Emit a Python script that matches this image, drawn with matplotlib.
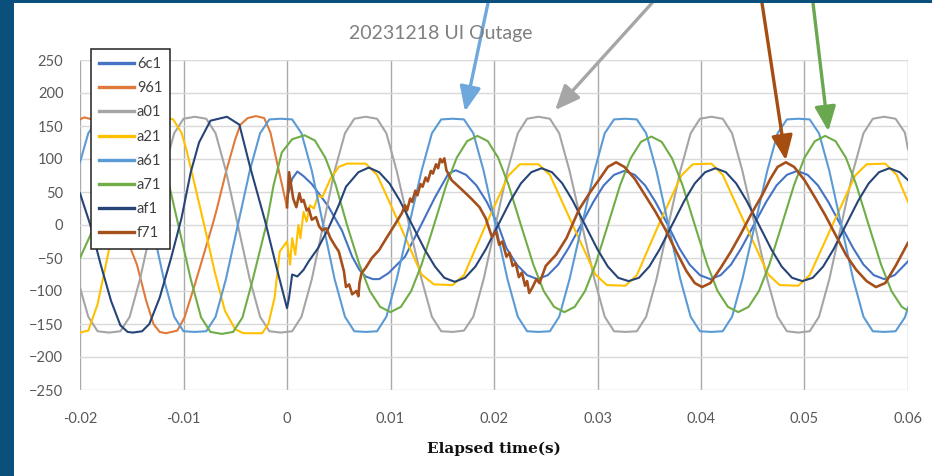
import matplotlib
matplotlib.use("Agg")
import matplotlib.pyplot as plt
import numpy as np
from matplotlib.patches import Rectangle

plt.rcParams['font.family'] = ['Lato', 'DejaVu Sans']

# ---------------- data (time in ms, values as read) ----------------
t_ac = [-20.0, -19.2, -18.3, -17.2, -16.1, -15.2, -14.2, -11.9, -10.9, -10.0, -8.9, -7.8, -6.9, -5.9,
        -3.6, -2.6, -1.7, -0.6, 0.5, 1.4, 2.4, 4.6, 5.6, 6.5, 7.6, 8.7, 9.6, 10.6,
        13.0, 14.0, 14.9, 16.0, 17.1, 18.0, 19.0, 21.3, 22.3, 23.2, 24.3, 25.4, 26.3, 27.3,
        29.7, 30.7, 31.6, 32.7, 33.8, 34.7, 35.7, 38.0, 39.0, 39.9, 41.0, 42.1, 43.0, 44.0,
        46.4, 47.4, 48.3, 49.4, 50.5, 51.4, 52.4, 54.7, 55.7, 56.6, 57.7, 58.8, 59.7, 60.0]
v_a01 = [-95, -139, -161, -163, -161, -139, -82, 82, 139, 161, 164, 161, 139, 82,
         -82, -139, -161, -163, -161, -139, -82, 82, 139, 161, 164, 161, 139, 82,
         -82, -139, -161, -162, -160, -139, -82, 82, 139, 161, 164, 161, 139, 82,
         -82, -139, -161, -162, -161, -139, -82, 82, 139, 161, 164, 161, 139, 82,
         -82, -139, -161, -163, -161, -139, -82, 82, 139, 161, 164, 161, 140, 115]
v_a61 = [95, 139, 160, 161, 160, 139, 82, -82, -139, -161, -162, -161, -139, -82,
         82, 139, 160, 161, 160, 139, 82, -82, -139, -161, -162, -161, -139, -82,
         82, 139, 160, 161, 160, 139, 82, -82, -139, -161, -162, -161, -139, -82,
         82, 139, 160, 161, 160, 139, 82, -82, -139, -161, -162, -161, -139, -82,
         82, 139, 160, 161, 160, 139, 82, -82, -139, -161, -162, -161, -140, -125]

t_a71 = [-20.0, -18.7, -17.7, -16.7, -15.8, -14.7, -13.6, -12.7, -11.7, -9.3, -8.3, -7.4, -6.3, -5.2,
         -4.3, -3.3, -2.0, -1.3, -0.5, 0.5, 1.7, 2.7, 3.7, 4.7, 5.8, 7.0, 8.0, 9.0, 10.0, 11.0,
         12.0, 13.0, 14.2, 15.4, 16.4, 17.4, 18.4, 19.4, 20.4, 21.4, 22.6, 23.8, 24.8, 25.8,
         26.8, 27.8, 28.8, 29.8, 31.0, 32.2, 33.2, 34.2, 35.2, 36.2, 37.2, 38.2, 39.4, 40.6,
         41.6, 42.6, 43.6, 44.6, 45.6, 46.6, 47.8, 49.0, 50.0, 51.0, 52.0, 53.0, 54.0, 55.0,
         56.2, 57.4, 58.4, 59.4, 60.0]
v_a71 = [-50, -5, 82, 140, 162, 165, 162, 140, 82, -82, -140, -162, -165, -162,
         -140, -82, 0, 60, 110, 130, 136, 128, 102, 61, 0, -60, -100, -124, -132, -124,
         -100, -60, 0, 61, 102, 127, 135, 127, 102, 61, 0, -60, -100, -124,
         -132, -124, -100, -60, 0, 61, 101, 126, 134, 126, 101, 61, 0, -60,
         -100, -124, -132, -124, -100, -60, 0, 61, 102, 127, 135, 127, 102, 61,
         0, -60, -100, -124, -130]

t_a21 = [-20.0, -19.2, -18.3, -17.5, -16.7, -15.8, -14.9, -13.9, -12.4, -11.0,
         -10.2, -9.7, -8.9, -8.0, -7.0, -6.0, -5.0, -4.2, -2.4, -1.8,
         -1.2, -0.7, 0.0, 0.3, 0.5, 0.8, 1.1, 1.3, 1.6, 1.9,
         2.2, 2.6, 3.0, 3.4, 4.2, 5.0, 5.8, 7.6, 8.7, 10.9,
         13.0, 14.2, 16.0, 17.1, 19.2, 21.4, 22.5, 24.3, 25.4, 27.6,
         29.8, 30.9, 32.7, 33.8, 35.9, 38.1, 39.2, 41.0, 42.1, 44.3,
         46.5, 47.6, 49.4, 50.5, 52.7, 54.9, 56.0, 57.8, 58.9, 60.0]
v_a21 = [-163, -160, -120, -60, 0, 70, 130, 160, 165, 160,
         140, 113, 60, 0, -70, -130, -158, -164, -164, -150,
         -110, -40, -25, -60, -20, -45, 0, -20, 20, 5,
         30, 25, 45, 42, 70, 88, 93, 93, 76, 0,
         -75, -90, -91, -76, 0, 75, 92, 92, 76, 0,
         -75, -91, -92, -76, 0, 75, 92, 93, 76, 0,
         -75, -91, -92, -76, 0, 75, 92, 93, 76, 35]

t_af1 = [-20.0, -19.0, -18.0, -17.0, -16.1, -15.4, -14.9, -14.0, -13.3, -12.3,
         -11.2, -10.2, -9.3, -8.5, -7.4, -5.8, -4.6, -3.6, -2.1, -1.0,
         0.0, 0.2, 0.5, 1.0, 1.6, 2.1, 3.0, 4.0, 5.0, 5.7,
         6.9, 7.9, 8.9, 9.9, 10.9, 12.1, 13.3, 14.3, 15.2, 16.2,
         17.2, 18.2, 19.2, 20.4, 21.6, 22.6, 23.6, 24.6, 25.6, 26.6,
         27.6, 28.8, 30.0, 31.0, 32.0, 33.0, 34.0, 35.0, 36.0, 37.2,
         38.4, 39.4, 40.4, 41.4, 42.4, 43.4, 44.4, 45.6, 46.8, 47.8,
         48.8, 49.8, 50.8, 51.8, 52.8, 54.0, 55.2, 56.2, 57.2, 58.2,
         59.2, 60.0]
v_af1 = [48, 0, -60, -115, -152, -162, -163, -161, -150, -110,
         -50, 10, 80, 125, 158, 164, 152, 90, 5, -65,
         -126, -110, -75, -78, -68, -55, -35, -5, 30, 58,
         80, 87, 80, 63, 37, 0, -37, -63, -80, -86,
         -80, -63, -37, 0, 37, 63, 80, 86, 80, 63,
         37, 0, -37, -63, -80, -85, -80, -63, -37, 0,
         37, 63, 80, 86, 80, 63, 37, 0, -37, -63,
         -80, -85, -80, -63, -37, 0, 37, 63, 80, 86,
         80, 68]

t_6c1 = [0.0, 0.5, 1.0, 1.6, 2.4, 4.0, 5.3, 6.3, 7.0, 7.6,
         8.3, 8.9, 9.8, 11.4, 12.7, 14.3, 15.6, 16.3, 17.3, 18.3,
         19.3, 20.4, 21.2, 22.2, 23.2, 24.2, 25.2, 26.2, 27.2, 28.4,
         29.6, 30.6, 31.6, 32.6, 33.6, 34.6, 35.6, 36.8, 37.9, 38.9,
         39.9, 40.9, 41.9, 42.9, 43.9, 45.1, 46.3, 47.3, 48.3, 49.3,
         50.3, 51.3, 52.3, 53.5, 54.7, 55.7, 56.7, 57.7, 58.7, 59.7, 60.0]
v_6c1 = [40, 70, 81, 74, 62, 28, -8, -48, -68, -78,
         -82, -82, -73, -48, -8, 42, 78, 83, 76, 60,
         35, 0, -35, -60, -76, -82, -76, -60, -35, 0,
         35, 60, 76, 82, 76, 60, 35, 0, -35, -60,
         -76, -82, -76, -60, -35, 0, 35, 60, 76, 82,
         76, 60, 35, 0, -35, -60, -76, -82, -76, -60, -55]

t_961 = [-20.0, -19.6, -18.8, -18.0, -17.1, -16.0, -15.5, -14.5, -13.6, -12.9,
         -12.3, -11.7, -10.6, -9.9, -8.9, -7.2, -6.8, -5.9, -5.0, -4.5,
         -3.8, -3.0, -2.2, -1.6, -0.9, -0.4, 0.0]
v_961 = [160, 163, 160, 140, 95, 20, -20, -60, -115, -150,
         -162, -164, -160, -140, -90, 0, 23, 80, 130, 152,
         162, 165, 162, 140, 90, 55, 27]

t_f71 = [0.0, 0.2, 0.4, 0.6, 0.9, 1.2, 1.4, 1.6, 1.9, 2.1,
         2.4, 2.8, 3.1, 3.4, 3.8, 4.2, 4.7, 5.0, 5.3, 5.5,
         5.7, 6.0, 6.3, 6.7, 6.9, 7.0, 7.2, 7.6, 8.2, 8.9,
         9.6, 10.4, 11.1, 11.4, 11.6, 11.9, 12.1, 12.4, 12.6, 12.9,
         13.1, 13.4, 13.6, 13.9, 14.1, 14.4, 14.6, 14.8, 15.0, 15.2,
         15.4, 15.9, 16.8, 17.8, 18.6, 19.2, 19.8, 20.2, 20.5, 20.8,
         21.2, 21.5, 21.8, 22.1, 22.4, 22.7, 23.0, 23.2, 23.4, 23.7,
         24.1, 24.4, 25.0, 26.0, 27.0, 28.2, 29.3, 30.3, 31.0, 31.8,
         32.6, 33.6, 34.6, 35.6, 36.6, 37.6, 38.6, 39.4, 40.1, 40.9,
         41.9, 42.9, 43.9, 44.9, 45.9, 46.7, 47.4, 48.2, 49.0, 50.0,
         51.0, 52.0, 53.0, 54.0, 55.0, 56.0, 56.9, 57.8, 58.8, 60.0]
v_f71 = [27, 80, 60, 40, 27, 48, 35, 38, 22, 25,
         8, 12, -2, -8, -5, -20, -33, -40, -58, -70,
         -94, -90, -105, -100, -108, -88, -73, -65, -50, -38,
         -20, 0, 18, 30, 22, 40, 35, 52, 45, 62,
         58, 72, 66, 82, 78, 92, 86, 100, 95, 101,
         83, 68, 55, 40, 27, 10, -18, -10, -30, -25,
         -48, -42, -62, -58, -79, -72, -92, -85, -103, -95,
         -82, -88, -62, -45, -20, 23, 50, 72, 88, 95,
         88, 70, 45, 20, -8, -40, -70, -88, -94, -88,
         -65, -40, -12, 18, 45, 70, 88, 95, 88, 68,
         42, 15, -15, -45, -68, -85, -94, -88, -62, -27]

series_names = ['6c1', '961', 'a01', 'a21', 'a61', 'a71', 'af1', 'f71']
series_t = [t_6c1, t_961, t_ac, t_a21, t_ac, t_a71, t_af1, t_f71]
series_v = [v_6c1, v_961, v_a01, v_a21, v_a61, v_a71, v_af1, v_f71]
series_colors = ['#4472C4', '#E07A3A', '#A5A5A5', '#FFC000', '#5B9BD5', '#70AD47', '#264478', '#A5501C']

x_ticks = [-0.02, -0.01, 0.0, 0.01, 0.02, 0.03, 0.04, 0.05, 0.06]
x_tick_labels = ['-0.02', '-0.01', '0', '0.01', '0.02', '0.03', '0.04', '0.05', '0.06']
y_ticks = [-250, -200, -150, -100, -50, 0, 50, 100, 150, 200, 250]

# annotation arrows: tip (t in s, value), start x as figure fraction, colour
arrow_tip_t = [0.0172, 0.0259, 0.0482, 0.0523]
arrow_tip_v = [172, 174, 98, 142]
arrow_start_x = [488 / 932, 652 / 932, 762 / 932, 813 / 932]
arrow_colors = ['#6FA8DC', '#A6A6A6', '#A64D12', '#6AA84F']

# ---------------- figure ----------------
W, H = 932, 476
fig = plt.figure(figsize=(W / 100, H / 100), dpi=100)
fig.patch.set_facecolor('white')
frame_col = '#0B4F7C'
fig.patches.append(Rectangle((0, 0), 14 / W, 1, transform=fig.transFigure,
                             facecolor=frame_col, edgecolor='none', zorder=0))
fig.patches.append(Rectangle((0, 1 - 3 / H), 1, 3 / H, transform=fig.transFigure,
                             facecolor=frame_col, edgecolor='none', zorder=0))

ax = fig.add_axes([80 / W, 86 / H, 828 / W, 330 / H])
ax.set_facecolor('white')

for name, t, v, c in zip(series_names, series_t, series_v, series_colors):
    lw = 1.9 if name == 'f71' else 1.5
    ax.plot(np.asarray(t) / 1000.0, v, color=c, lw=lw, label=name, solid_joinstyle='round')

ax.set_xlim(-0.02, 0.06)
ax.set_ylim(-250, 250)
ax.set_xticks(x_ticks)
ax.set_xticklabels(x_tick_labels)
ax.set_yticks(y_ticks)
ax.tick_params(axis='both', length=0, labelsize=10.5, labelcolor='#595959')
ax.tick_params(axis='x', pad=16)
ax.tick_params(axis='y', pad=12)
for s in ax.spines.values():
    s.set_visible(False)
ax.set_axisbelow(True)
ax.xaxis.grid(True, color='#ABABAB', lw=1.0)
ax.yaxis.grid(True, color='#D9D9D9', lw=1.0)

ax.set_xlabel('Elapsed time(s)', family=['DejaVu Serif'], fontweight='bold',
              fontsize=11, color='#111111', labelpad=11)

fig.text(441 / W, 1 - 33 / H, '20231218 UI Outage', ha='center', va='center',
         fontsize=14, color='#7F7F7F')

leg = ax.legend(loc='upper left', bbox_to_anchor=(91 / W, 1 - 49 / H),
                bbox_transform=fig.transFigure, fontsize=10.5, frameon=True,
                fancybox=False, edgecolor='#222222', framealpha=1,
                handlelength=2.4, handletextpad=0.2, labelspacing=0.7,
                borderpad=0.55, borderaxespad=0)
leg.get_frame().set_linewidth(1.1)
for ln in leg.get_lines():
    ln.set_linewidth(2.4)
for txt in leg.get_texts():
    txt.set_color('#404040')

for tt, tv, sx, c in zip(arrow_tip_t, arrow_tip_v, arrow_start_x, arrow_colors):
    ax.annotate('', xy=(tt, tv), xycoords='data', xytext=(sx, 1 - 3 / H),
                textcoords='figure fraction', annotation_clip=False,
                arrowprops=dict(arrowstyle='-|>,head_length=0.75,head_width=0.32',
                                color=c, lw=2.4, shrinkA=0, shrinkB=0,
                                mutation_scale=20))

fig.savefig('out.png', dpi=100, facecolor='white')
